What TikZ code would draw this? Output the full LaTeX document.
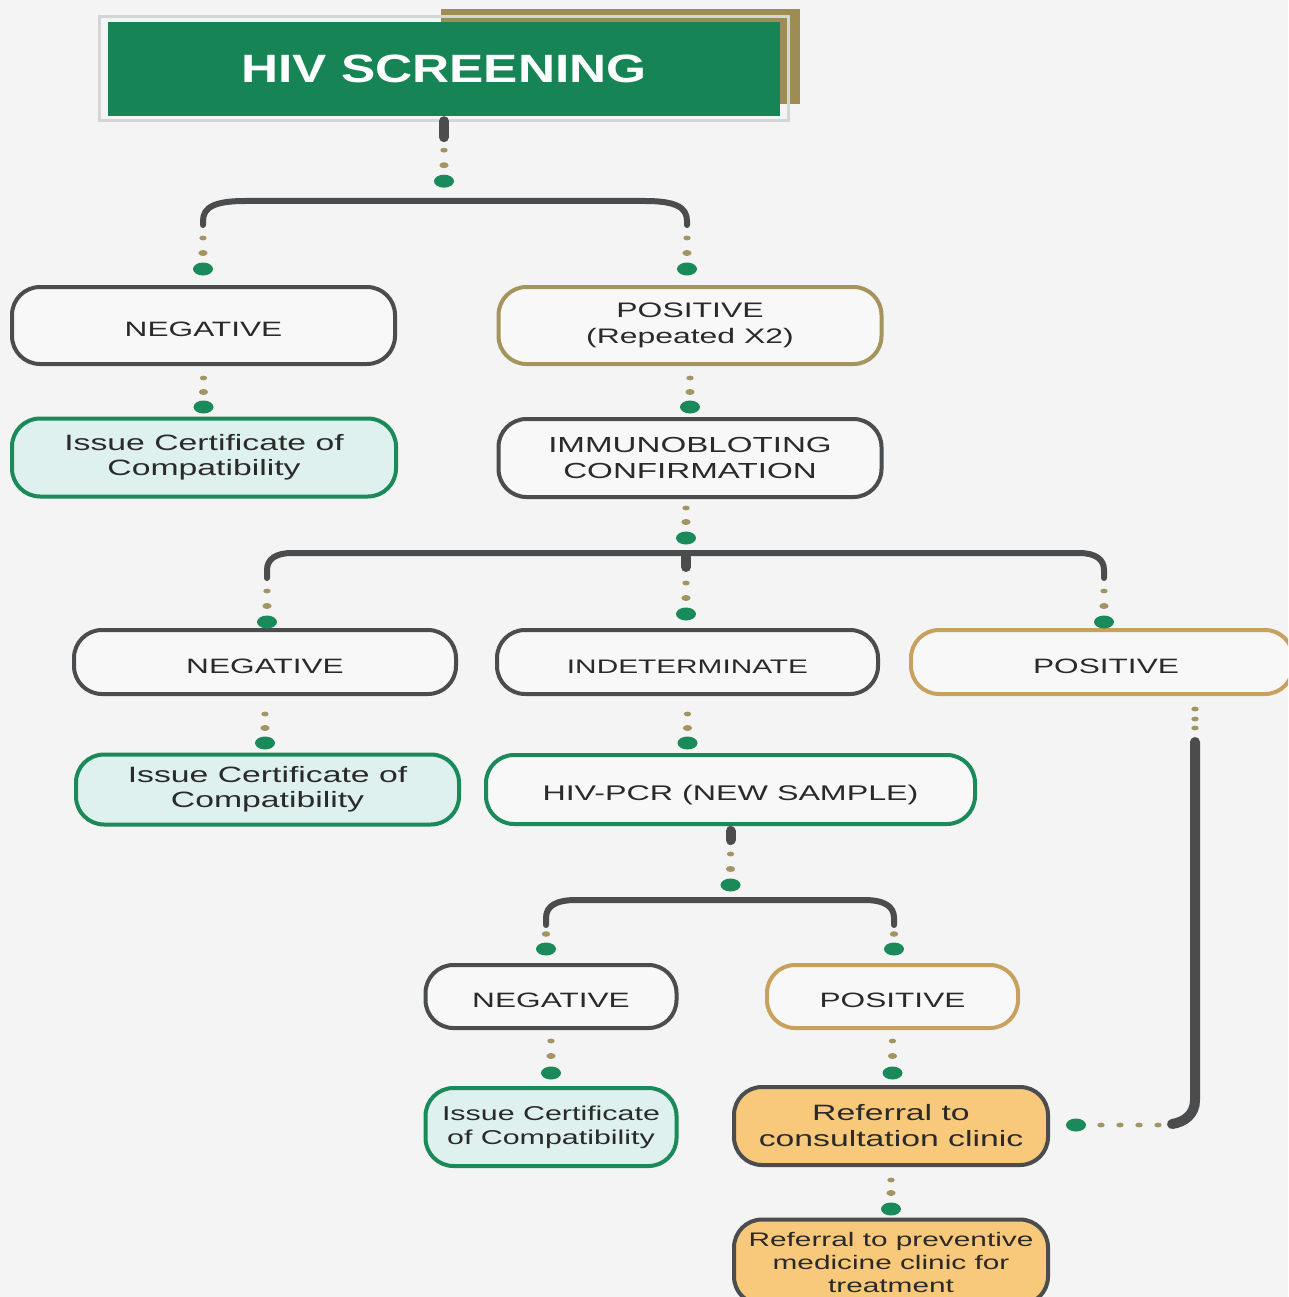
\documentclass[tikz,border=0pt]{standalone}
\usepackage{fontspec}
\setmainfont{Liberation Sans}
\newfontfamily\boxfont[FakeStretch=1.52]{Liberation Sans}
\newfontfamily\headfont[FakeStretch=1.3]{Liberation Sans}
\usetikzlibrary{calc}

\definecolor{pagebg}{HTML}{F4F4F4}
\definecolor{boxfill}{HTML}{F8F8F8}
\definecolor{ink}{HTML}{2A2A2A}
\definecolor{slate}{HTML}{4B4C4E}
\definecolor{leaf}{HTML}{1A8A5A}
\definecolor{headgreen}{HTML}{178455}
\definecolor{mint}{HTML}{DFF1EF}
\definecolor{olive}{HTML}{A3955B}
\definecolor{tan}{HTML}{C9A15E}
\definecolor{dotgold}{HTML}{A39463}
\definecolor{amber}{HTML}{F8C97A}
\definecolor{headgold}{HTML}{9D8D55}
\definecolor{framegray}{HTML}{D4D5D7}

% three dots (small gold, gold, green) going down from an anchor
\newcommand\dotrun[4]{%
  \fill[dotgold] ($(#1)+(0,#2)$) ellipse [x radius=3.7pt, y radius=2.4pt];
  \fill[dotgold] ($(#1)+(0,#3)$) ellipse [x radius=4.6pt, y radius=3pt];
  \fill[leaf] ($(#1)+(0,#4)$) ellipse [x radius=10pt, y radius=6.5pt];}
% two dots (gold, green)
\newcommand\dotpair[3]{%
  \fill[dotgold] ($(#1)+(0,#2)$) ellipse [x radius=4.2pt, y radius=2.8pt];
  \fill[leaf] ($(#1)+(0,#3)$) ellipse [x radius=10pt, y radius=6.5pt];}

\begin{document}
\begin{tikzpicture}[x=1pt,y=-1pt,
  box/.style={rectangle, rounded corners=28pt, line width=4pt, fill=boxfill,
    text=ink, align=center, inner sep=0pt,
    font=\boxfont\fontsize{20.8}{26}\selectfont},
  oneline/.style={text height=22pt, text depth=0pt},
  greybox/.style={box, draw=slate},
  okbox/.style={box, draw=leaf, fill=mint},
  posbox/.style={box, draw=tan},
  refbox/.style={box, draw=slate, fill=amber},
  bracket/.style={draw=slate, line width=6pt, line cap=round},
  stem/.style={draw=slate, line width=10pt, line cap=round}]

\useasboundingbox (0,0) rectangle (1288,1297);
\clip (0,0) rectangle (1288,1297);
\fill[pagebg] (0,0) rectangle (1288,1297);

% ---- heading ----
\fill[headgold] (441,9) rectangle (800,104);
\draw[framegray, line width=3pt] (99.5,16.5) rectangle (788.5,120.5);
\node[rectangle, fill=headgreen, minimum width=672pt, minimum height=94pt,
  inner sep=0pt, text=white,
  font=\headfont\bfseries\fontsize{39.5}{40}\selectfont] (title) at (444,69) {HIV SCREENING};

% ---- boxes ----
\node[greybox, oneline, minimum width=383pt, minimum height=77pt] (neg1) at (203.5,325.5) {NEGATIVE};
\node[okbox, minimum width=384pt, minimum height=78pt,
  font=\boxfont\fontsize{22.2}{25.5}\selectfont] (cert1) at (204,457.5) {Issue Certificate of\\Compatibility};
\node[box, draw=olive, minimum width=383pt, minimum height=77pt,
  font=\boxfont\fontsize{21}{26}\selectfont] (pos1) at (690,325.5) {POSITIVE\\(Repeated X2)};
\node[greybox, minimum width=383pt, minimum height=78pt,
  font=\boxfont\fontsize{21.8}{26}\selectfont] (blot) at (690,458) {IMMUNOBLOTING\\CONFIRMATION};

\node[greybox, oneline, minimum width=382pt, minimum height=64pt] (neg2) at (265,662) {NEGATIVE};
\node[greybox, oneline, minimum width=381pt, minimum height=64pt,
  font=\boxfont\fontsize{19.6}{24}\selectfont] (indet) at (687.5,662) {INDETERMINATE};
\node[posbox, oneline, minimum width=382pt, minimum height=64pt] (pos2) at (1102,662) {\hspace*{8pt}POSITIVE};

\node[okbox, minimum width=383pt, minimum height=70pt,
  font=\boxfont\fontsize{22.2}{25.5}\selectfont] (cert2) at (267.5,789.5) {Issue Certificate of\\Compatibility};
\node[box, oneline, draw=leaf, minimum width=489pt, minimum height=69pt,
  font=\boxfont\fontsize{21.2}{26}\selectfont] (pcr) at (730.5,789.5) {HIV-PCR (NEW SAMPLE)};

\node[greybox, oneline, minimum width=251pt, minimum height=63pt] (neg3) at (551,996.5) {NEGATIVE};
\node[posbox, oneline, minimum width=251pt, minimum height=63pt] (pos3) at (892.5,996.5) {POSITIVE};

\node[okbox, minimum width=251pt, minimum height=78pt,
  font=\boxfont\fontsize{20}{24}\selectfont] (cert3) at (551,1127) {Issue Certificate\\of Compatibility};
\node[refbox, minimum width=314pt, minimum height=78pt,
  font=\boxfont\fontsize{22.2}{26}\selectfont] (consult) at (891,1126) {Referral to\\consultation clinic};
\node[refbox, minimum width=314pt, minimum height=85pt,
  font=\boxfont\fontsize{19.6}{23}\selectfont] (prevent) at (891,1262) {Referral to preventive\\medicine clinic for\\treatment};

% ---- heading to first split ----
\draw[stem] ($(title.south)+(0,5)$) -- ($(title.south)+(0,21)$);
\dotrun{title.south}{34}{49}{65}

\coordinate (b1l) at (203,225);
\coordinate (b1r) at (687,225);
\draw[bracket] (b1l) -- ($(b1l)+(0,-4)$)
  .. controls ($(b1l)+(0,-18)$) and ($(b1l)+(12,-24)$) .. ($(b1l)+(42,-24)$)
  -- ($(b1r)+(-42,-24)$)
  .. controls ($(b1r)+(-12,-24)$) and ($(b1r)+(0,-18)$) .. ($(b1r)+(0,-4)$) -- (b1r);
\dotrun{b1l}{13}{28}{44}
\dotrun{b1r}{13}{28}{44}

\dotrun{neg1.south}{12}{26}{41}
\dotrun{pos1.south}{12}{26}{41}

% ---- immunoblot split ----
\coordinate (b2m) at (686,553);
\coordinate (b2l) at (267,578);
\coordinate (b2r) at (1104,578);
\dotrun{b2m}{-45}{-31}{-15}
\draw[bracket] (b2l) -- ($(b2l)+(0,-8)$)
  .. controls ($(b2l)+(0,-19)$) and ($(b2l)+(9,-25)$) .. ($(b2l)+(25,-25)$)
  -- ($(b2r)+(-25,-25)$)
  .. controls ($(b2r)+(-9,-25)$) and ($(b2r)+(0,-19)$) .. ($(b2r)+(0,-8)$) -- (b2r);
\draw[stem] ($(b2m)+(0,4)$) -- ($(b2m)+(0,14)$);
\dotrun{b2m}{30}{45}{61}
\dotrun{b2l}{13}{28}{44}
\dotrun{b2r}{13}{28}{44}

\dotrun{neg2.south}{18}{32}{47}
\dotrun{indet.south}{18}{32}{47}

% ---- PCR split ----
\draw[stem] ($(pcr.south)+(0,5)$) -- ($(pcr.south)+(0,14)$);
\dotrun{pcr.south}{28}{43}{59}
\coordinate (b3l) at (546,925);
\coordinate (b3r) at (894,925);
\draw[bracket] (b3l) -- ($(b3l)+(0,-7)$)
  .. controls ($(b3l)+(0,-19)$) and ($(b3l)+(10,-25)$) .. ($(b3l)+(30,-25)$)
  -- ($(b3r)+(-30,-25)$)
  .. controls ($(b3r)+(-10,-25)$) and ($(b3r)+(0,-19)$) .. ($(b3r)+(0,-7)$) -- (b3r);
\dotpair{b3l}{9}{24}
\dotpair{b3r}{9}{24}

\dotrun{neg3.south}{11}{26}{43}
\dotrun{pos3.south}{11}{26}{43}
\dotrun{consult.south}{13}{26}{42}

% ---- direct referral from the positive immunoblot ----
\coordinate (gdrop) at ($(pos2.south)+(93,0)$);
\coordinate (mtap) at ($(consult.east)+(26,-1)$);
\foreach \dy in {13,23,32}
  \fill[dotgold] ($(gdrop)+(0,\dy)$) ellipse [x radius=3.7pt, y radius=2.4pt];
\draw[stem] ($(gdrop)+(0,46)$) -- ($(gdrop)+(0,404)$)
  .. controls ($(gdrop)+(0,418)$) and ($(gdrop)+(-10,426)$) .. ($(mtap)+(96,-1)$);
\foreach \dx in {25,44,63,82}
  \fill[dotgold] ($(mtap)+(\dx,0)$) ellipse [x radius=3.7pt, y radius=2.4pt];
\fill[leaf] (mtap) ellipse [x radius=10pt, y radius=6.5pt];

\end{tikzpicture}
\end{document}
